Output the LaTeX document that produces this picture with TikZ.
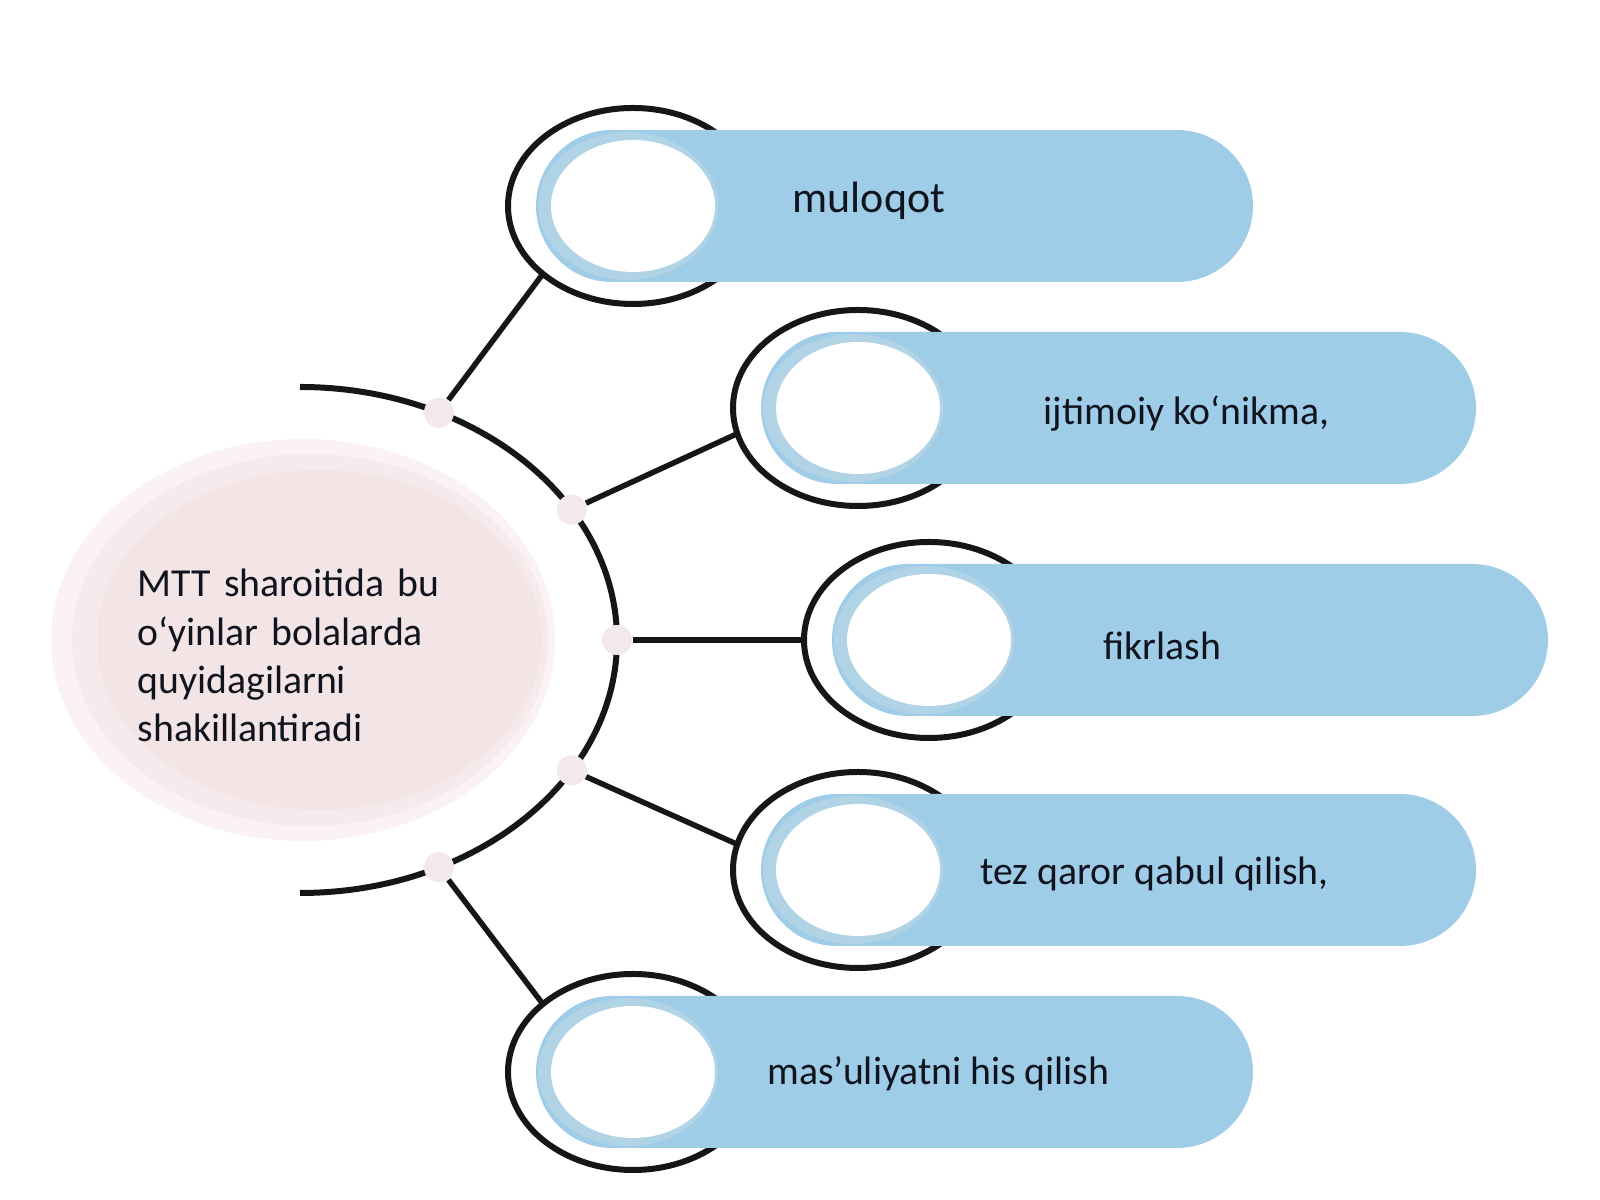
\documentclass[tikz,border=0pt]{standalone}
\usepackage{fontspec}
\setmainfont{Carlito}
\usetikzlibrary{shapes.geometric,calc}
\definecolor{pillblue}{RGB}{159,204,231}
\definecolor{ringblue}{RGB}{176,211,230}
\definecolor{rimblack}{RGB}{22,22,22}
\definecolor{pinkout}{RGB}{250,242,243}
\definecolor{pinkmid}{RGB}{246,234,236}
\definecolor{pinkin}{RGB}{243,228,230}
\definecolor{dotpink}{RGB}{243,232,234}
\definecolor{inktext}{RGB}{16,20,30}
\tikzset{
  rim/.style={ellipse,draw=rimblack,line width=0.6mm,inner sep=0,outer sep=0,
    minimum width=25mm,minimum height=19.6mm},
  pill/.style={fill=pillblue,rounded corners=7.6mm},
  spoke/.style={draw=rimblack,line width=0.55mm},
  joint/.style={circle,fill=dotpink,inner sep=0,minimum size=3mm},
  label/.style={anchor=base west,inner sep=0,text=inktext,font=\fontsize{11.3}{13.7}\selectfont}
}

\begin{document}
\begin{tikzpicture}[x=0.1mm,y=0.1mm]
\useasboundingbox (0,0) rectangle (1600,1200);
% centre
\fill[pinkout] (303,560) ellipse[x radius=252,y radius=201];
\fill[pinkmid] (310,560) ellipse[x radius=238,y radius=186];
\fill[pinkin] (319,560) ellipse[x radius=222,y radius=170];
\node[label,text width=36mm,align=left] (hubtext) at (137,603)
  {MTT sharoitida bu\\o‘yinlar bolalarda\\quyidagilarni\\shakillantiradi};
\coordinate (hub) at (300,560);
\draw[spoke,line width=0.6mm] ([shift={(90:317 and 253)}]hub) arc[start angle=90,end angle=-90,x radius=317,y radius=253];
% branches
\node[rim] (b1) at (633,994) {};
\fill[pill] (536,918) rectangle (1253,1070);
\fill[ringblue] (628,994) ellipse[x radius=90,y radius=74];
\fill[white] (633,994) ellipse[x radius=82,y radius=66];
\node[label,font=\fontsize{12.5}{15}\selectfont] (t1) at (792,987) {muloqot};

\node[rim] (b2) at (858,792) {};
\fill[pill] (761,716) rectangle (1476,868);
\fill[ringblue] (853,792) ellipse[x radius=90,y radius=74];
\fill[white] (858,792) ellipse[x radius=82,y radius=66];
\node[label] (t2) at (1043,775) {ijtimoiy ko‘nikma,};

\node[rim] (b3) at (929,560) {};
\fill[pill] (832,484) rectangle (1548,636);
\fill[ringblue] (924,560) ellipse[x radius=90,y radius=74];
\fill[white] (929,560) ellipse[x radius=82,y radius=66];
\node[label] (t3) at (1103,540) {fikrlash};

\node[rim] (b4) at (858,330) {};
\fill[pill] (761,254) rectangle (1476,406);
\fill[ringblue] (853,330) ellipse[x radius=90,y radius=74];
\fill[white] (858,330) ellipse[x radius=82,y radius=66];
\node[label] (t4) at (980,315) {tez qaror qabul qilish,};

\node[rim] (b5) at (633,128) {};
\fill[pill] (536,52) rectangle (1253,204);
\fill[ringblue] (628,128) ellipse[x radius=90,y radius=74];
\fill[white] (633,128) ellipse[x radius=82,y radius=66];
\node[label] (t5) at (767,115) {mas’uliyatni his qilish};
% joints and spokes
\node[joint] (j1) at ([shift={(64:317 and 253)}]hub) {};
\node[joint] (j2) at ([shift={(31:317 and 253)}]hub) {};
\node[joint] (j3) at ([shift={(0:317 and 253)}]hub) {};
\node[joint] (j4) at ([shift={(-31:317 and 253)}]hub) {};
\node[joint] (j5) at ([shift={(-64:317 and 253)}]hub) {};
\draw[spoke] (j1) -- (b1.217);
\draw[spoke] (j2) -- (b2.192);
\draw[spoke] (j3) -- (b3.west);
\draw[spoke] (j4) -- (b4.168);
\draw[spoke] (j5) -- (b5.143);
\end{tikzpicture}
\end{document}
